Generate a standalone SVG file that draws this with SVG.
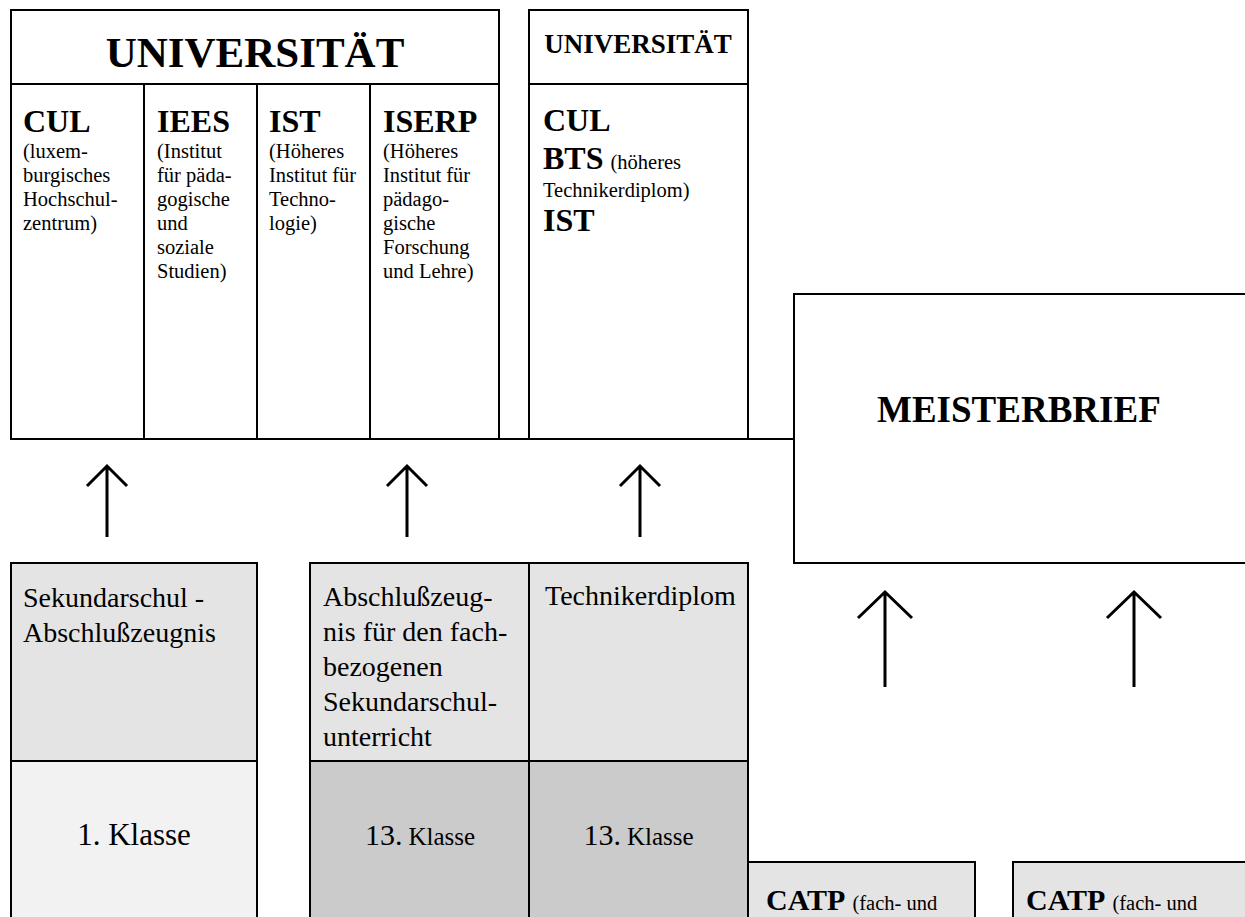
<svg xmlns="http://www.w3.org/2000/svg" width="1245" height="917" viewBox="0 0 1245 917">
<style>
.b{fill:none;stroke:#000;stroke-width:2}
.t{font-family:"Liberation Serif","Times New Roman",serif;fill:#000}
.bd{font-weight:bold}
.s{font-size:20.5px}
.m{font-size:28px}
.h{font-size:32px;font-weight:bold}
.ar{fill:none;stroke:#000;stroke-width:3}
</style>
<rect width="1245" height="917" fill="#fff"/>
<g id="universitaet1">
<rect class="b" x="11" y="10" width="488" height="429"/>
<line class="b" x1="11" y1="84" x2="499" y2="84"/>
<line class="b" x1="144" y1="84" x2="144" y2="439"/>
<line class="b" x1="257" y1="84" x2="257" y2="439"/>
<line class="b" x1="370" y1="84" x2="370" y2="439"/>
<text class="t bd" x="255" y="67" font-size="43" text-anchor="middle">UNIVERSITÄT</text>
<text class="t h" x="23" y="132">CUL</text>
<text class="t s" x="23" y="158">(luxem-</text>
<text class="t s" x="23" y="182">burgisches</text>
<text class="t s" x="23" y="206">Hochschul-</text>
<text class="t s" x="23" y="230">zentrum)</text>
<text class="t h" x="157" y="132">IEES</text>
<text class="t s" x="157" y="158">(Institut</text>
<text class="t s" x="157" y="182">für päda-</text>
<text class="t s" x="157" y="206">gogische</text>
<text class="t s" x="157" y="230">und</text>
<text class="t s" x="157" y="254">soziale</text>
<text class="t s" x="157" y="278">Studien)</text>
<text class="t h" x="269" y="132">IST</text>
<text class="t s" x="269" y="158">(Höheres</text>
<text class="t s" x="269" y="182">Institut für</text>
<text class="t s" x="269" y="206">Techno-</text>
<text class="t s" x="269" y="230">logie)</text>
<text class="t h" x="383" y="132">ISERP</text>
<text class="t s" x="383" y="158">(Höheres</text>
<text class="t s" x="383" y="182">Institut für</text>
<text class="t s" x="383" y="206">pädago-</text>
<text class="t s" x="383" y="230">gische</text>
<text class="t s" x="383" y="254">Forschung</text>
<text class="t s" x="383" y="278">und Lehre)</text>
</g>
<g id="universitaet2">
<rect class="b" x="529" y="10" width="219" height="429"/>
<line class="b" x1="529" y1="84" x2="748" y2="84"/>
<text class="t bd" x="638" y="53" font-size="27" text-anchor="middle">UNIVERSITÄT</text>
<text class="t h" x="543" y="131">CUL</text>
<text class="t h" x="543" y="169">BTS<tspan class="s" font-weight="normal" dx="7">(höheres</tspan></text>
<text class="t s" x="543" y="197">Technikerdiplom)</text>
<text class="t h" x="543" y="231">IST</text>
</g>
<g id="meisterbrief">
<rect class="b" x="794" y="294" width="460" height="269"/>
<text class="t bd" x="877" y="422" font-size="37">MEISTERBRIEF</text>
</g>
<g id="sekundarschul">
<rect x="11" y="563" width="246" height="198" fill="#e4e4e4"/>
<rect x="11" y="761" width="246" height="166" fill="#f2f2f2"/>
<rect class="b" x="11" y="563" width="246" height="364"/>
<line class="b" x1="11" y1="761" x2="257" y2="761"/>
<text class="t m" x="23" y="607">Sekundarschul -</text>
<text class="t m" x="23" y="642">Abschlußzeugnis</text>
<text class="t" x="134" y="845" font-size="31" text-anchor="middle">1. Klasse</text>
</g>
<g id="fachbezogen">
<rect x="310" y="563" width="219" height="198" fill="#e4e4e4"/>
<rect x="310" y="761" width="219" height="166" fill="#cbcbcb"/>
<rect class="b" x="310" y="563" width="219" height="364"/>
<line class="b" x1="310" y1="761" x2="529" y2="761"/>
<text class="t m" x="323" y="606">Abschlußzeug-</text>
<text class="t m" x="323" y="641">nis für den fach-</text>
<text class="t m" x="323" y="676">bezogenen</text>
<text class="t m" x="323" y="711">Sekundarschul-</text>
<text class="t m" x="323" y="746">unterricht</text>
<text class="t" x="420" y="845" font-size="30" text-anchor="middle">13.<tspan font-size="25" dx="6">Klasse</tspan></text>
</g>
<g id="technikerdiplom">
<rect x="529" y="563" width="219" height="198" fill="#e4e4e4"/>
<rect x="529" y="761" width="219" height="166" fill="#cbcbcb"/>
<rect class="b" x="529" y="563" width="219" height="364"/>
<line class="b" x1="529" y1="761" x2="748" y2="761"/>
<text class="t m" x="545" y="605">Technikerdiplom</text>
<text class="t" x="638.5" y="845" font-size="30" text-anchor="middle">13.<tspan font-size="25" dx="6">Klasse</tspan></text>
</g>
<g id="catp1">
<rect x="748" y="862" width="227" height="70" fill="#e4e4e4"/>
<rect class="b" x="748" y="862" width="227" height="70"/>
<text class="t" x="766" y="910"><tspan font-weight="bold" font-size="30">CATP</tspan><tspan font-size="20.5" dx="7">(fach- und</tspan></text>
</g>
<g id="catp2">
<rect x="1013" y="862" width="240" height="70" fill="#e4e4e4"/>
<rect class="b" x="1013" y="862" width="240" height="70"/>
<text class="t" x="1026" y="910"><tspan font-weight="bold" font-size="30">CATP</tspan><tspan font-size="20.5" dx="7">(fach- und</tspan></text>
</g>
<g id="connectors">
<line class="b" x1="11" y1="439" x2="794" y2="439"/>
<path class="ar" d="M107 537V466M87 486L107 466L127 486"/>
<path class="ar" d="M407 537V466M387 486L407 466L427 486"/>
<path class="ar" d="M640 537V466M620 486L640 466L660 486"/>
<path class="ar" d="M885 687V592M858 618L885 592L912 618"/>
<path class="ar" d="M1134 687V592M1107 618L1134 592L1161 618"/>
</g>
</svg>
